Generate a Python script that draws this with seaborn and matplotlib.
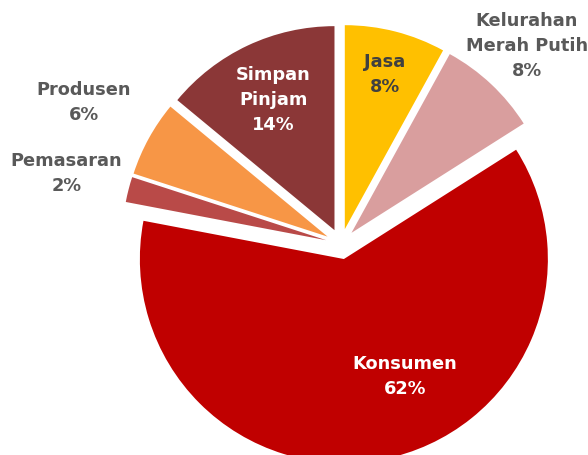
import numpy as np
import matplotlib
matplotlib.use("Agg")
import matplotlib.pyplot as plt
import seaborn as sns

sns.set_style("white")
plt.rcParams['font.family'] = ['DejaVu Sans']

# data
categories = ["Jasa", "Kelurahan\nMerah Putih", "Konsumen", "Pemasaran", "Produsen", "Simpan\nPinjam"]
shares = [8, 8, 62, 2, 6, 14]
colors = ["#FFC000", "#D99E9E", "#C00000", "#B94A48", "#F79646", "#8B3737"]

# label styling (radius as fraction, angle tweak in deg, text colour)
label_r = [0.86, 1.33, 0.72, 1.39, 1.44, 0.78]
label_dang = [0, 0, 15, 0, 0, 0]
label_col = ["#404040", "#595959", "white", "#595959", "#595959", "white"]

fig = plt.figure(figsize=(5.88, 4.55), dpi=100)
ax = fig.add_axes([0, 0, 1, 1])

wedges, _ = ax.pie(shares, colors=colors, startangle=90, counterclock=False,
                   explode=[0.075] * len(shares), radius=1.0,
                   wedgeprops=dict(linewidth=0))

for w, cat, val, r, da, c in zip(wedges, categories, shares, label_r, label_dang, label_col):
    mid = np.deg2rad((w.theta1 + w.theta2) / 2 + da)
    ax.text(r * np.cos(mid), r * np.sin(mid), f"{cat}\n{val}%",
            ha="center", va="center", fontsize=12.8, fontweight="bold",
            color=c, linespacing=1.5)

ax.set_xlim(-341 / 204, (588 - 341) / 204)
ax.set_ylim(-(455 - 244) / 204, 244 / 204)
ax.set_aspect("equal")
ax.axis("off")

plt.savefig("out.png", dpi=100)
